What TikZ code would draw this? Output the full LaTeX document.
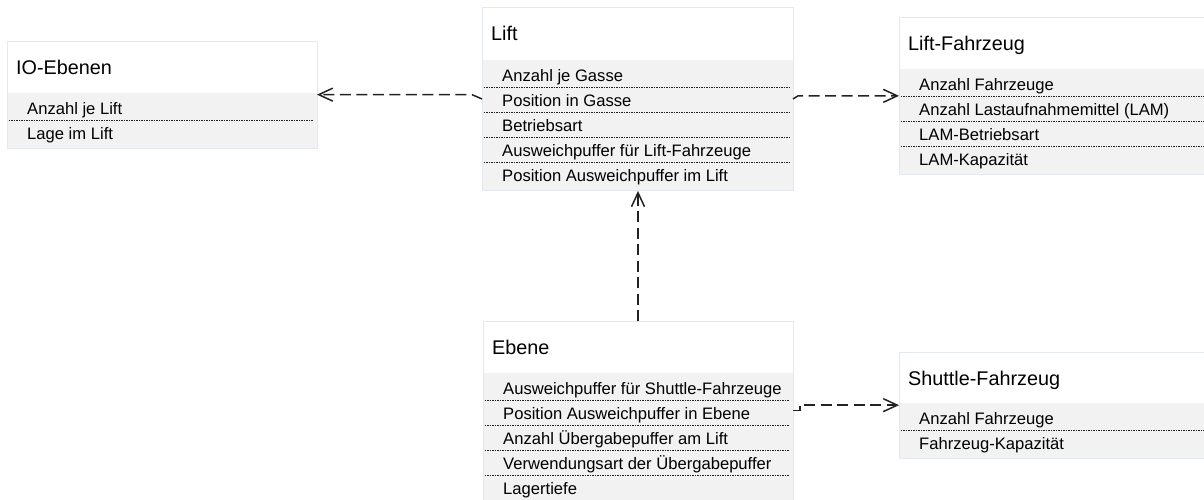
\documentclass[tikz,border=0pt]{standalone}
\usepackage{fontspec}
\setmainfont{Liberation Sans}
\usetikzlibrary{arrows.meta,calc}

\definecolor{rowfill}{HTML}{F2F2F2}
\definecolor{framec}{HTML}{E4E9F1}
\definecolor{inkc}{HTML}{222222}

\tikzset{
  boxframe/.style={draw=framec, line width=0.9pt, inner sep=0pt, outer sep=0pt, anchor=north west},
  hdrtext/.style={anchor=base west, inner sep=0pt, font=\fontsize{19.8}{22}\selectfont},
  rowtext/.style={anchor=base west, inner sep=0pt, font=\fontsize{16.6}{19}\selectfont},
  sepline/.style={draw=inkc, line width=1pt, dash pattern=on 1.7pt off 0.8pt},
  dep/.style={draw=inkc, line width=1.5pt, dash pattern=on 11pt off 5.5pt,
    -{Straight Barb[length=14pt,width=13pt,line width=1.5pt]}}
}

% #1 name, #2 left, #3 top, #4 width, #5 header height, #6 number of rows, #7 title, #8 rows
\newcommand\classbox[8]{%
  \pgfmathsetmacro\cbHb{#3+#5}%
  \pgfmathsetmacro\cbBot{\cbHb+55.3+25.2*(#6-2)}%
  \pgfmathsetmacro\cbRight{#2+#4}%
  \pgfmathsetmacro\cbHeight{\cbBot-#3}%
  \fill[white] (#2,#3) rectangle (\cbRight,\cbHb);
  \fill[rowfill] (#2,\cbHb) rectangle (\cbRight,\cbBot);
  \node[boxframe, minimum width=#4pt, minimum height=\cbHeight pt] (#1) at (#2,#3) {};
  \node[hdrtext] (#1-title) at (#2+9,#3+33) {#7};
  \foreach \t [count=\k from 0] in {#8} {
    \node[rowtext] (#1-r\k) at (#2+20,\cbHb+21+25.2*\k) {\t};
    \ifnum\k>0
      \draw[sepline] (#2+1.5,\cbHb+27.3+25.2*\k-25.2) -- (\cbRight-4,\cbHb+27.3+25.2*\k-25.2);
    \fi
  }%
}

\begin{document}
\begin{tikzpicture}[x=1pt,y=-1pt]
  \useasboundingbox (0,0) rectangle (1204,499);
  \clip (0,0) rectangle (1204,499);
  \fill[white] (0,0) rectangle (1204,499);

  \classbox{io}{7}{41}{310}{52}{2}{IO-Ebenen}{Anzahl je Lift,Lage im Lift}
  \classbox{lift}{482}{7}{311}{53}{5}{Lift}{Anzahl je Gasse,Position in Gasse,Betriebsart,Ausweichpuffer für Lift-Fahrzeuge,Position Ausweichpuffer im Lift}
  \classbox{lfz}{899}{17}{330}{52}{4}{Lift-Fahrzeug}{Anzahl Fahrzeuge,Anzahl Lastaufnahmemittel (LAM),LAM-Betriebsart,LAM-Kapazität}
  \classbox{ebene}{483}{321}{310}{52}{5}{Ebene}{Ausweichpuffer für Shuttle-Fahrzeuge,Position Ausweichpuffer in Ebene,Anzahl Übergabepuffer am Lift,Verwendungsart der Übergabepuffer,Lagertiefe}
  \classbox{sfz}{899}{352}{330}{51}{2}{Shuttle-Fahrzeug}{Anzahl Fahrzeuge,Fahrzeug-Kapazität}

  % dependencies
  \draw[dep] (lift.west) -- ($(lift.west |- io.east)+(-10,0)$) -- (io.east);
  \draw[dep] (lift.east) -- ($(lift.east |- lfz.west)+(5,0)$) -- (lfz.west);
  \draw[dep] (ebene.north) -- (ebene.north |- lift.south);
  \coordinate (ebs) at ([yshift=2pt]ebene.east);
  \coordinate (ebk) at ($(ebs)+(7,0)$);
  \draw[dep] (ebs) -- (ebk) -- (ebk |- sfz.west) -- (sfz.west);
\end{tikzpicture}
\end{document}
